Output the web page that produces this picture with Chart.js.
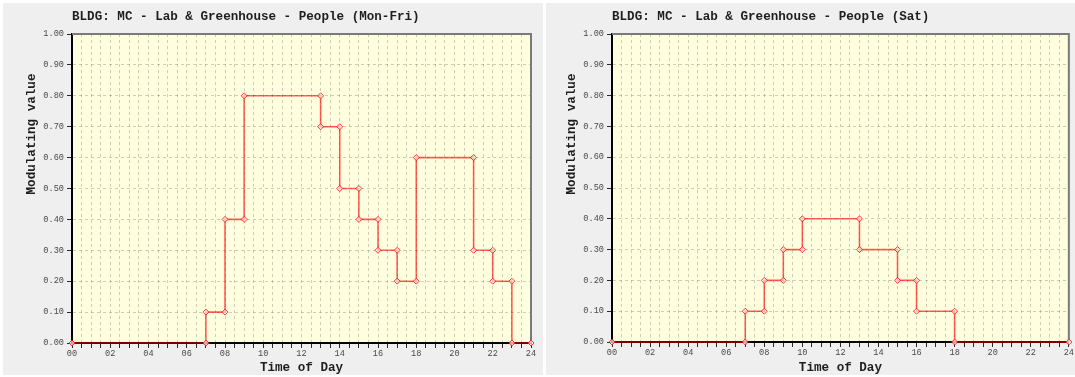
<!DOCTYPE html>
<html>
<head>
<meta charset="utf-8">
<title>BLDG: MC - Lab &amp; Greenhouse - People</title>
<script src="https://cdn.jsdelivr.net/npm/chart.js@4/dist/chart.umd.min.js"></script>
<style>
  html, body { margin: 0; padding: 0; background: #ffffff; }
  body { width: 1075px; height: 377px; position: relative; overflow: hidden; }
  canvas { position: absolute; display: block; }
  #weekday { left: 3px; top: 3px; }
  #saturday { left: 546px; top: 3px; }
</style>
</head>
<body>
<canvas id="weekday" width="540" height="372"></canvas>
<canvas id="saturday" width="529" height="372"></canvas>
<script>
// Schedule corner points (hour of day, modulating value)
const monFriHours  = [0, 7, 7, 8, 8, 9, 9, 13, 13, 14, 14, 15, 15, 16, 16, 17, 17, 18, 18, 21, 21, 22, 22, 23, 23, 24];
const monFriValues = [0, 0, 0.1, 0.1, 0.4, 0.4, 0.8, 0.8, 0.7, 0.7, 0.5, 0.5, 0.4, 0.4, 0.3, 0.3, 0.2, 0.2, 0.6, 0.6, 0.3, 0.3, 0.2, 0.2, 0, 0];

const satHours  = [0, 7, 7, 8, 8, 9, 9, 10, 10, 13, 13, 15, 15, 16, 16, 18, 18, 24];
const satValues = [0, 0, 0.1, 0.1, 0.2, 0.2, 0.3, 0.3, 0.4, 0.4, 0.3, 0.3, 0.2, 0.2, 0.1, 0.1, 0, 0];

// Axis tick labels
const hourLabels  = ['00', '02', '04', '06', '08', '10', '12', '14', '16', '18', '20', '22', '24'];
const valueLabels = ['0.00', '0.10', '0.20', '0.30', '0.40', '0.50', '0.60', '0.70', '0.80', '0.90', '1.00'];

const titleWeekday  = 'BLDG: MC - Lab & Greenhouse - People (Mon-Fri)';
const titleSaturday = 'BLDG: MC - Lab & Greenhouse - People (Sat)';
const xTitle = 'Time of Day';
const yTitle = 'Modulating value';

const MONO = '"Liberation Mono", "DejaVu Sans Mono", monospace';
const GRID = 'rgba(120, 120, 110, 0.36)';

// Panel background, plot fill, frame and the text around the plot
const framePlugin = {
  id: 'frame',
  beforeDraw(chart) {
    const { ctx, chartArea: a } = chart;
    ctx.save();
    ctx.fillStyle = '#efefef';
    ctx.fillRect(0, 0, chart.width, chart.height);
    ctx.fillStyle = '#ffffe0';
    ctx.fillRect(a.left, a.top, a.right - a.left, a.bottom - a.top);
    ctx.restore();
  },
  beforeDatasetsDraw(chart) {
    const { ctx, chartArea: a } = chart;
    ctx.save();
    ctx.strokeStyle = '#7a7a7a';
    ctx.lineWidth = 2;
    ctx.beginPath();
    ctx.moveTo(a.left, a.top);
    ctx.lineTo(a.right, a.top);
    ctx.lineTo(a.right, a.bottom);
    ctx.stroke();
    ctx.restore();
  },
  afterDraw(chart, args, opts) {
    const { ctx, chartArea: a } = chart;
    ctx.save();
    ctx.fillStyle = '#1e1e1e';
    ctx.font = 'bold 12.6px ' + MONO;
    ctx.textBaseline = 'middle';
    ctx.textAlign = 'left';
    ctx.fillText(opts.title, a.left, 14);
    ctx.textAlign = 'center';
    ctx.fillText(xTitle, (a.left + a.right) / 2, 365);
    ctx.translate(opts.yTitleX, 131);
    ctx.rotate(-Math.PI / 2);
    ctx.fillText(yTitle, 0, 0);
    ctx.restore();
  }
};

function makeChart(canvasId, hours, values, title, geom) {
  const points = hours.map((h, i) => ({ x: h, y: values[i] }));
  return new Chart(document.getElementById(canvasId), {
    type: 'line',
    data: {
      datasets: [{
        data: points,
        borderColor: 'rgba(255, 0, 0, 0.62)',
        borderWidth: 1.6,
        pointStyle: 'rectRot',
        pointRadius: 3,
        pointBorderWidth: 1,
        pointBorderColor: 'rgba(255, 0, 0, 0.75)',
        pointBackgroundColor: 'rgba(255, 235, 225, 0.7)',
        tension: 0,
        clip: false
      }]
    },
    options: {
      responsive: false,
      animation: false,
      devicePixelRatio: 1,
      layout: { padding: { left: 0, top: 31, right: geom.padRight, bottom: 0 } },
      plugins: {
        legend: { display: false },
        tooltip: { enabled: false },
        frame: { title: title, yTitleX: geom.yTitleX }
      },
      scales: {
        x: {
          type: 'linear',
          min: 0,
          max: 24,
          afterFit: s => { s.height = geom.xHeight; },
          ticks: {
            stepSize: 0.5,
            autoSkip: false,
            maxRotation: 0,
            padding: 1,
            color: '#4a4a4a',
            font: { family: MONO, size: 8.6 },
            callback: v => (Number.isInteger(v) && v % 2 === 0) ? hourLabels[v / 2] : ''
          },
          grid: {
            color: GRID,
            lineWidth: 1,
            tickColor: '#2a2a2a',
            tickLength: 5,
            tickWidth: 1
          },
          border: { color: '#000000', width: 2, dash: [3, 3] }
        },
        y: {
          type: 'linear',
          min: 0,
          max: 1,
          afterFit: s => { s.width = geom.yWidth; },
          ticks: {
            stepSize: 0.1,
            padding: 3,
            color: '#4a4a4a',
            font: { family: MONO, size: 8.6 },
            callback: v => valueLabels[Math.round(v * 10)]
          },
          grid: {
            color: GRID,
            lineWidth: 1,
            tickColor: '#2a2a2a',
            tickLength: 5,
            tickWidth: 1
          },
          border: { color: '#000000', width: 2, dash: [3, 3] }
        }
      }
    },
    plugins: [framePlugin]
  });
}

makeChart('weekday', monFriHours, monFriValues, titleWeekday,
  { yWidth: 69, padRight: 12, xHeight: 32, yTitleX: 29 });
makeChart('saturday', satHours, satValues, titleSaturday,
  { yWidth: 66, padRight: 4, xHeight: 33, yTitleX: 26 });
</script>
</body>
</html>
